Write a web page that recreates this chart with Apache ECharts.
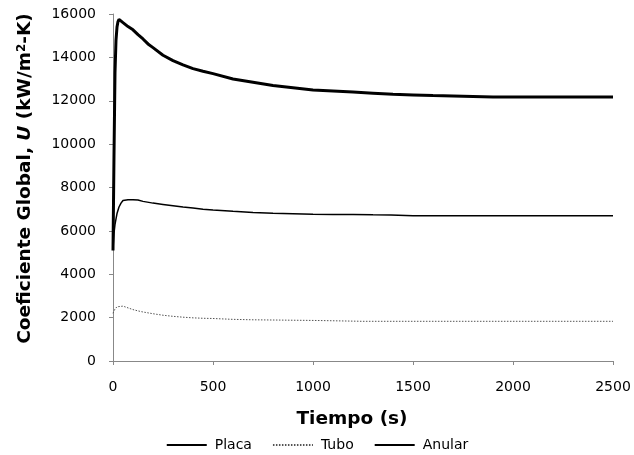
<!DOCTYPE html>
<html>
<head>
<meta charset="utf-8">
<script src="https://cdn.jsdelivr.net/npm/echarts@6/dist/echarts.min.js"></script>
<style>html,body{margin:0;padding:0;background:#fff}#c{width:634px;height:455px}</style>
</head>
<body>
<div id="c"></div>
<script>
const seriesNames = ['Placa', 'Tubo', 'Anular'];
const xTicks = [0, 500, 1000, 1500, 2000, 2500];
const yTicks = [0, 2000, 4000, 6000, 8000, 10000, 12000, 14000, 16000];

const placaT = [0, 5, 10, 15, 20, 30, 40, 50, 75, 100, 125, 150, 200, 250, 300, 350, 400, 450, 500, 600, 700, 800, 900, 1000, 1100, 1200, 1300, 1390, 1400, 1500, 1750, 2000, 2250, 2500];
const placaU = [5150, 5900, 6300, 6550, 6800, 7100, 7280, 7400, 7430, 7430, 7420, 7360, 7280, 7220, 7160, 7100, 7050, 7000, 6960, 6900, 6850, 6810, 6790, 6770, 6760, 6750, 6740, 6735, 6700, 6700, 6700, 6700, 6700, 6700];

const tuboT = [0, 5, 10, 20, 30, 50, 75, 100, 125, 150, 200, 250, 300, 350, 400, 450, 500, 600, 700, 800, 900, 1000, 1040, 1050, 1250, 1500, 1750, 2000, 2250, 2500];
const tuboU = [2200, 2300, 2400, 2500, 2540, 2530, 2450, 2370, 2310, 2260, 2180, 2110, 2060, 2020, 1990, 1970, 1960, 1920, 1900, 1890, 1880, 1870, 1865, 1830, 1830, 1830, 1830, 1830, 1830, 1830];

const anularT = [0, 5, 10, 15, 20, 25, 30, 40, 50, 75, 100, 125, 150, 175, 200, 250, 300, 350, 400, 450, 500, 600, 700, 800, 900, 1000, 1100, 1200, 1300, 1400, 1500, 1600, 1700, 1800, 1900, 2000, 2250, 2500];
const anularU = [5100, 9500, 13300, 14800, 15400, 15650, 15750, 15700, 15600, 15420, 15270, 15050, 14850, 14620, 14450, 14100, 13850, 13650, 13480, 13360, 13250, 13000, 12850, 12700, 12600, 12500, 12450, 12400, 12350, 12300, 12270, 12240, 12220, 12200, 12170, 12170, 12170, 12170];

function pairs(t, v) { return t.map((x, i) => [x, v[i]]); }

const chart = echarts.init(document.getElementById('c'), null, {renderer: 'canvas'});
const FONT = 'DejaVu Sans';
chart.setOption({
  animation: false,
  backgroundColor: '#ffffff',
  textStyle: {fontFamily: FONT},
  grid: {left: 113, right: 21, top: 14, bottom: 94, containLabel: false},
  legend: {
    bottom: -2, left: 'center',
    data: seriesNames,
    itemWidth: 40, itemHeight: 10, itemGap: 20,
    itemStyle: {opacity: 0},
    textStyle: {fontFamily: FONT, fontSize: 14, color: '#000', padding: [0, 0, 0, 3]}
  },
  xAxis: {
    type: 'value', min: xTicks[0], max: xTicks[xTicks.length - 1], interval: 500,
    name: 'Tiempo (s)', nameLocation: 'middle', nameGap: 49,
    nameTextStyle: {fontFamily: FONT, fontSize: 18.5, fontWeight: 'bold', color: '#000', padding: [0, 22, 0, 0]},
    axisLine: {show: true, lineStyle: {color: '#888', width: 1}},
    axisTick: {show: true, inside: false, length: 4, lineStyle: {color: '#888'}},
    axisLabel: {margin: 19, fontSize: 14, color: '#000', fontFamily: FONT, formatter: v => String(v)},
    splitLine: {show: false}
  },
  yAxis: {
    type: 'value', min: yTicks[0], max: yTicks[yTicks.length - 1], interval: 2000,
    name: '{b|Coeficiente Global, }{bi|U}{b| (kW/m}{sup|2}{b|-K)}',
    nameLocation: 'middle', nameGap: 78, nameRotate: 90,
    nameTextStyle: {
      fontFamily: FONT, fontSize: 18.5, fontWeight: 'bold', color: '#000', padding: [0, 0, 0, 18],
      rich: {
        b: {fontFamily: FONT, fontSize: 18.5, fontWeight: 'bold', color: '#000'},
        bi: {fontFamily: FONT, fontSize: 18.5, fontWeight: 'bold', fontStyle: 'italic', color: '#000'},
        sup: {fontFamily: FONT, fontSize: 12, fontWeight: 'bold', color: '#000', verticalAlign: 'top', padding: [0, 0, 7, 0]}
      }
    },
    axisLine: {show: true, lineStyle: {color: '#888', width: 1}},
    axisTick: {show: true, inside: false, length: 4, lineStyle: {color: '#888'}},
    axisLabel: {margin: 17, fontSize: 14, color: '#000', fontFamily: FONT, formatter: v => String(v)},
    splitLine: {show: false}
  },
  series: [
    {name: seriesNames[0], type: 'line', data: pairs(placaT, placaU), showSymbol: false, symbol: 'none',
     lineStyle: {color: '#000', width: 1.5, type: 'solid'}, itemStyle: {color: '#000'}},
    {name: seriesNames[1], type: 'line', data: pairs(tuboT, tuboU), showSymbol: false, symbol: 'none',
     lineStyle: {color: '#555', width: 1, type: [1.5, 1.5]}, itemStyle: {color: '#555'}},
    {name: seriesNames[2], type: 'line', data: pairs(anularT, anularU), showSymbol: false, symbol: 'none',
     lineStyle: {color: '#000', width: 3, type: 'solid'}, itemStyle: {color: '#000'}}
  ]
});
</script>
</body>
</html>
